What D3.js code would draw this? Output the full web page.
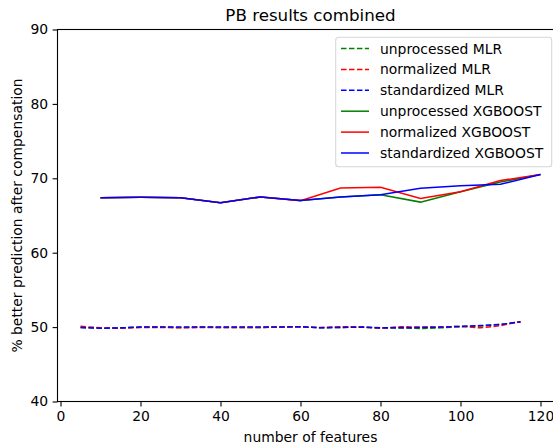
<!DOCTYPE html>
<html>
<head>
<meta charset="utf-8">
<script src="https://cdn.jsdelivr.net/npm/d3@7"></script>
<style>
  html, body { margin: 0; padding: 0; background: #fff; }
  svg { display: block; font-family: "DejaVu Sans", sans-serif; }
</style>
</head>
<body>
<svg id="chart" width="553" height="447"></svg>
<script>
// Feature counts for the two model families
const mlrFeatures = [5, 10, 15, 20, 25, 30, 35, 40, 45, 50, 55, 60, 65, 70, 75, 80, 85, 90, 95, 100, 105, 110, 115];
const xgbFeatures = [10, 20, 30, 40, 50, 60, 70, 80, 90, 100, 110, 120];

// % better prediction after compensation, MLR
const mlrUnprocessed  = [49.95, 49.85, 49.9, 50.0, 50.0, 49.95, 50.0, 49.95, 49.95, 49.95, 50.0, 50.05, 49.9, 49.95, 50.0, 49.85, 49.9, 49.8, 49.9, 50.05, 50.15, 50.35, 50.7];
const mlrNormalized   = [50.1, 49.9, 49.85, 49.95, 49.95, 49.9, 49.95, 49.95, 49.95, 49.95, 50.0, 50.0, 49.95, 50.05, 50.05, 49.85, 50.05, 50.0, 50.0, 50.1, 49.9, 50.2, 50.75];
const mlrStandardized = [49.95, 49.85, 49.9, 50.0, 50.0, 50.0, 50.0, 50.0, 50.0, 50.0, 50.0, 50.05, 49.9, 49.95, 50.0, 49.9, 49.9, 49.95, 50.0, 50.1, 50.2, 50.35, 50.7];

// % better prediction after compensation, XGBOOST
const xgbUnprocessed  = [67.4, 67.45, 67.4, 66.7, 67.5, 67.0, 67.5, 67.8, 66.8, 68.2, 69.5, 70.5];
const xgbNormalized   = [67.4, 67.45, 67.4, 66.7, 67.5, 67.0, 68.7, 68.8, 67.3, 68.2, 69.7, 70.5];
const xgbStandardized = [67.4, 67.45, 67.4, 66.7, 67.5, 67.0, 67.5, 67.8, 68.65, 69.0, 69.2, 70.5];

const xTicks = [0, 20, 40, 60, 80, 100, 120];
const yTicks = [40, 50, 60, 70, 80, 90];

const series = [
  { name: "unprocessed MLR",      x: mlrFeatures, y: mlrUnprocessed,  color: "#008000", dashed: true },
  { name: "normalized MLR",       x: mlrFeatures, y: mlrNormalized,   color: "#ff0000", dashed: true },
  { name: "standardized MLR",     x: mlrFeatures, y: mlrStandardized, color: "#0000ff", dashed: true },
  { name: "unprocessed XGBOOST",  x: xgbFeatures, y: xgbUnprocessed,  color: "#008000", dashed: false },
  { name: "normalized XGBOOST",   x: xgbFeatures, y: xgbNormalized,   color: "#ff0000", dashed: false },
  { name: "standardized XGBOOST", x: xgbFeatures, y: xgbStandardized, color: "#0000ff", dashed: false }
];

const svg = d3.select("#chart");
const plotLeft = 57.5, plotRight = 563.5, plotTop = 29.5, plotBottom = 401.5;

const x = d3.scaleLinear().domain([-0.75, 125.75]).range([plotLeft, plotRight]);
const y = d3.scaleLinear().domain([40, 90]).range([plotBottom, plotTop]);

const fontSize = 13.9;

// Lines
const line = d3.line().x(d => x(d[0])).y(d => y(d[1]));
const plot = svg.append("g");
series.forEach(s => {
  plot.append("path")
    .datum(s.x.map((v, i) => [v, s.y[i]]))
    .attr("d", line)
    .attr("fill", "none")
    .attr("stroke", s.color)
    .attr("stroke-width", 1.5)
    .attr("stroke-dasharray", s.dashed ? "5.55,2.4" : null);
});

// Axes
const xAxis = d3.axisBottom(x).tickValues(xTicks).tickSize(4.9).tickPadding(4.5);
const yAxis = d3.axisLeft(y).tickValues(yTicks).tickSize(4.9).tickPadding(4.5);

const gx = svg.append("g").attr("transform", `translate(0,${plotBottom})`).call(xAxis);
const gy = svg.append("g").attr("transform", `translate(${plotLeft},0)`).call(yAxis);
[gx, gy].forEach(g => {
  g.select(".domain").remove();
  g.selectAll("line").attr("stroke", "#000").attr("stroke-width", 1.1);
  g.selectAll("text").attr("font-size", fontSize).attr("fill", "#000")
    .attr("font-family", "DejaVu Sans, sans-serif");
});

// Spines
svg.append("rect")
  .attr("x", plotLeft).attr("y", plotTop)
  .attr("width", plotRight - plotLeft).attr("height", plotBottom - plotTop)
  .attr("fill", "none").attr("stroke", "#000").attr("stroke-width", 1.1);

// Titles
svg.append("text").attr("x", (plotLeft + plotRight) / 2).attr("y", 20.5)
  .attr("text-anchor", "middle").attr("font-size", 16.7).text("PB results combined");
svg.append("text").attr("x", (plotLeft + plotRight) / 2).attr("y", 442)
  .attr("text-anchor", "middle").attr("font-size", fontSize).text("number of features");
svg.append("text").attr("transform", `translate(21.5,${(plotTop + plotBottom) / 2}) rotate(-90)`)
  .attr("text-anchor", "middle").attr("font-size", fontSize).text("% better prediction after compensation");

// Legend
const lg = svg.append("g");
lg.append("rect").attr("x", 335.7).attr("y", 37.3).attr("width", 216).attr("height", 129.4)
  .attr("rx", 3).attr("fill", "rgba(255,255,255,0.8)").attr("stroke", "#d6d6d6").attr("stroke-width", 1.1);
series.forEach((s, i) => {
  const cy = 48.5 + i * 20.9;
  lg.append("line").attr("x1", 341).attr("x2", 369).attr("y1", cy).attr("y2", cy)
    .attr("stroke", s.color).attr("stroke-width", 1.5)
    .attr("stroke-dasharray", s.dashed ? "5.55,2.4" : null);
  lg.append("text").attr("x", 380).attr("y", cy + 5).attr("font-size", fontSize).text(s.name);
});
</script>
</body>
</html>
